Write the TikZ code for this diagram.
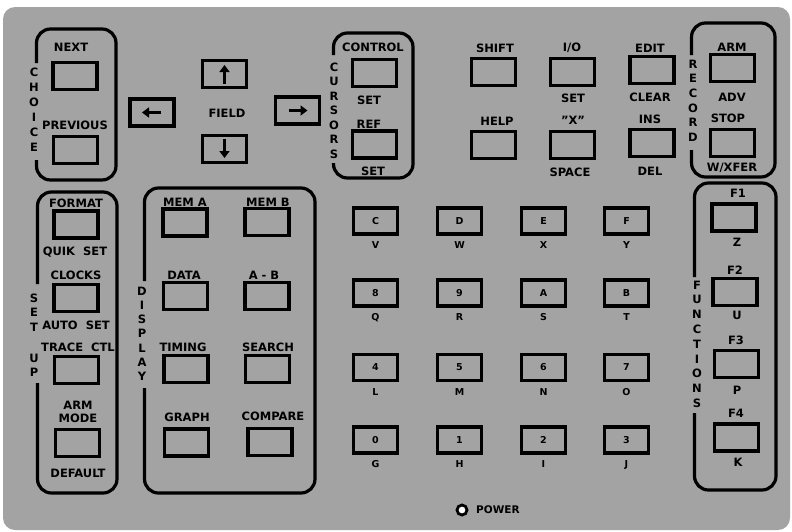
\documentclass[tikz,border=0pt]{standalone}
\usepackage{fontspec}
\setmainfont{DejaVu Sans}
\usetikzlibrary{arrows.meta}
\definecolor{panelgray}{gray}{0.64}
\tikzset{
  keybox/.style={draw, line width=3.5pt, minimum width=44pt, minimum height=27pt, inner sep=0pt},
  hexkey/.style={keybox, font=\fontsize{9.5}{10}\selectfont\bfseries, minimum height=26pt},
  hexsub/.style={font=\fontsize{9.5}{10}\selectfont\bfseries, inner sep=0pt},
  lbl/.style={font=\fontsize{11.5}{12}\selectfont\bfseries, inner sep=0pt},
  vl/.style={font=\fontsize{11.5}{12}\selectfont\bfseries, inner sep=0pt},
  frame/.style={line width=3.2pt, rounded corners=14pt},
  keyarrow/.style={line width=3.2pt, -{Triangle[length=7pt,width=10pt]}}
}
\newcommand\pkey[3]{\node[keybox] (#1) at (#2) {#3};}
\begin{document}
\begin{tikzpicture}[x=1pt,y=-1pt]
\useasboundingbox (0,0) rectangle (792,531);
\fill[panelgray, rounded corners=12pt] (3,7) rectangle (790,530);

% ---------- group frames ----------
\draw[frame] (36.5,63) -- (36.5,29) -- (116,29) -- (116,180) -- (36.5,180) -- (36.5,160);
\draw[frame] (333.5,55) -- (333.5,33) -- (413,33) -- (413,178) -- (333.5,178) -- (333.5,163);
\draw[frame] (691.5,55) -- (691.5,23) -- (775,23) -- (775,177) -- (691.5,177) -- (691.5,150);
\draw[frame] (37.5,284) -- (37.5,192) -- (117,192) -- (117,493) -- (37.5,493) -- (37.5,383);
\draw[frame] (144.5,281) -- (144.5,188) -- (315,188) -- (315,493) -- (144.5,493) -- (144.5,388);
\draw[frame] (694.5,277) -- (694.5,183) -- (776,183) -- (776,490) -- (694.5,490) -- (694.5,413);

% ---------- vertical group names ----------
\foreach \l/\y [count=\i] in {C/72,H/87,O/102,I/117,C/132,E/147}
  \node[vl] (choice\i) at (34,\y) {\l};
\foreach \l/\y [count=\i] in {C/67,U/81.5,R/96,S/110.5,O/125,R/139.5,S/154}
  \node[vl] (cursors\i) at (334,\y) {\l};
\foreach \l/\y [count=\i] in {R/64,E/78.5,C/93,O/108,R/122.5,D/137}
  \node[vl] (record\i) at (693,\y) {\l};
\foreach \l/\y [count=\i] in {S/298,E/312.5,T/327,U/358,P/372}
  \node[vl] (setup\i) at (34,\y) {\l};
\foreach \l/\y [count=\i] in {D/291,I/305,S/319,P/333,L/348,A/362,Y/376}
  \node[vl] (display\i) at (142,\y) {\l};
\foreach \l/\y [count=\i] in {F/285,U/299.8,N/314.5,C/329.3,T/344,I/358.8,O/373.5,N/388.3,S/403}
  \node[vl] (functions\i) at (697,\y) {\l};

% ---------- top row keys ----------
\pkey{next}{75,76}{}
\pkey{prev}{75.5,150}{}
\pkey{left}{152,112.5}{}
\pkey{up}{224.5,74}{}
\pkey{down}{224.5,149}{}
\pkey{right}{297.5,110.5}{}
\pkey{control}{374.5,73}{}
\pkey{ref}{374.5,144.5}{}
\pkey{shift}{493.5,72}{}
\pkey{help}{493.5,145}{}
\pkey{io}{572.5,72}{}
\pkey{space}{572.5,145}{}
\pkey{edit}{652,70}{}
\pkey{ins}{652,143}{}
\pkey{arm}{732.5,68}{}
\pkey{stop}{732.5,143}{}

\draw[keyarrow] ([xshift=9pt]left.center) -- ([xshift=-10pt]left.center);
\draw[keyarrow] ([xshift=-9pt]right.center) -- ([xshift=10pt]right.center);
\draw[keyarrow] ([yshift=-10pt]up.center) -- ([yshift=9pt]up.center);
\draw[keyarrow] ([yshift=10pt]down.center) -- ([yshift=-9pt]down.center);

\node[lbl] (tNext) at (71,47) {NEXT};
\node[lbl] (tPrev) at (75,125) {PREVIOUS};
\node[lbl] (tField) at (227,113) {FIELD};
\node[lbl] (tControl) at (373,47) {CONTROL};
\node[lbl] (tSetA) at (369,100) {SET};
\node[lbl] (tRef) at (369,124) {REF};
\node[lbl] (tSetB) at (373,171) {SET};
\node[lbl] (tShift) at (495,48) {SHIFT};
\node[lbl] (tHelp) at (497,121) {HELP};
\node[lbl] (tIO) at (572,48) {I/O};
\node[lbl] (tSetC) at (573,98) {SET};
\node[lbl] (tX) at (573,120) {"X"};
\node[lbl] (tSpace) at (570,172) {SPACE};
\node[lbl] (tEdit) at (650,48) {EDIT};
\node[lbl] (tClear) at (650,97) {CLEAR};
\node[lbl] (tIns) at (650,119) {INS};
\node[lbl] (tDel) at (650,171) {DEL};
\node[lbl] (tArm) at (732,47) {ARM};
\node[lbl] (tAdv) at (732,97) {ADV};
\node[lbl] (tStop) at (728,118) {STOP};
\node[lbl] (tWx) at (732,168) {W/XFER};

% ---------- set up group ----------
\pkey{format}{76,224.5}{}
\pkey{clocks}{76,298}{}
\pkey{trace}{76.5,370}{}
\pkey{armmode}{77.5,443}{}
\node[lbl] (tFormat) at (76,203) {FORMAT};
\node[lbl] (tQuik) at (75,252) {QUIK\ \ SET};
\node[lbl] (tClocks) at (76,275) {CLOCKS};
\node[lbl] (tAuto) at (76,325) {AUTO\ \ SET};
\node[lbl] (tTrace) at (78,347) {TRACE\ \ CTL};
\node[lbl] (tArmB) at (78,405) {ARM};
\node[lbl] (tMode) at (78,418) {MODE};
\node[lbl] (tDefault) at (78,473) {DEFAULT};

% ---------- display group ----------
\pkey{mema}{185,222.5}{}
\pkey{memb}{267,222}{}
\pkey{data}{185.5,296}{}
\pkey{amb}{267,296}{}
\pkey{timing}{186,369}{}
\pkey{search}{267.5,369}{}
\pkey{graph}{186.5,442.5}{}
\pkey{compare}{270,442}{}
\node[lbl] (tMemA) at (185,202) {MEM A};
\node[lbl] (tMemB) at (268,202) {MEM B};
\node[lbl] (tData) at (184,275) {DATA};
\node[lbl] (tAmB) at (264,275) {A - B};
\node[lbl] (tTiming) at (183,347) {TIMING};
\node[lbl] (tSearch) at (268,347) {SEARCH};
\node[lbl] (tGraph) at (187,417) {GRAPH};
\node[lbl] (tCompare) at (273,416) {COMPARE};

% ---------- hex keypad ----------
\foreach \k/\s/\x/\y in {C/V/375.5/221, D/W/459.5/221, E/X/543.5/221, F/Y/626.5/221,
                          8/Q/375.5/293, 9/R/459.5/293, A/S/543.5/293, B/T/626.5/293,
                          4/L/375.5/367.5, 5/M/459.5/367.5, 6/N/543.5/367.5, 7/O/626.5/367.5,
                          0/G/375.5/440, 1/H/459.5/440, 2/I/543.5/440, 3/J/626.5/440} {
  \node[hexkey] (k\k) at (\x,\y) {\k};
  \node[hexsub] (s\k) at ([yshift=-24.5pt]k\k.center) {\s};
}

% ---------- functions group ----------
\pkey{fa}{734,217.5}{}
\pkey{fb}{735,292}{}
\pkey{fc}{736.5,364}{}
\pkey{fd}{736.5,437.5}{}
\node[lbl] (tF1) at (738,193) {F1};
\node[lbl] (tZ) at (737,242) {Z};
\node[lbl] (tF2) at (735,270) {F2};
\node[lbl] (tU) at (737,315) {U};
\node[lbl] (tF3) at (736,340) {F3};
\node[lbl] (tP) at (737,390) {P};
\node[lbl] (tF4) at (736,413) {F4};
\node[lbl] (tK) at (738,462) {K};

% ---------- power ----------
\node[circle, draw, line width=2.8pt, fill=white, minimum size=10pt, inner sep=0pt] (pwr) at (462,510) {};
\node[lbl, font=\fontsize{10.5}{11}\selectfont\bfseries, anchor=west] (tPower) at (476,510) {POWER};
\end{tikzpicture}
\end{document}
